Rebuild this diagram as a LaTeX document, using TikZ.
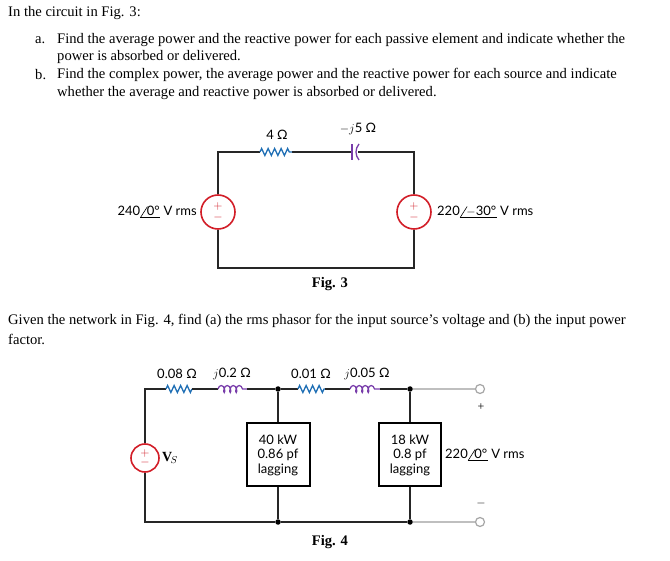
\documentclass[tikz,border=0pt]{standalone}
\usepackage{fontspec}
\setmainfont{Liberation Serif}
\newfontfamily\lab{Lato}
\usetikzlibrary{decorations.pathmorphing}
\definecolor{resblue}{RGB}{30,110,180}
\definecolor{indpurple}{RGB}{120,60,170}
\definecolor{srcred}{RGB}{210,30,40}
\newcommand\phz[1]{\tikz[baseline=0pt,x=1pt,y=1pt,line width=0.6pt]{%
  \node[anchor=base west,inner sep=0pt] (n) at (6,0) {#1};
  \draw (0,-2) -- (7,9);
  \draw (0,-2) -- (n.east |- 0,-2);}}
\begin{document}
\begin{tikzpicture}[x=1pt,y=-1pt,
  txt/.style={anchor=west,inner sep=0pt,font=\fontsize{14.6}{16}\selectfont},
  lbl/.style={inner sep=1pt,font=\lab\fontsize{13}{14}\selectfont},
  wire/.style={line width=2.2pt,black!85},
  gwire/.style={line width=2.2pt,black!25},
  res/.style={resblue,line width=1.3pt,decorate,decoration={zigzag,amplitude=3.5pt,segment length=6.5pt}},
  ind/.style={indpurple,line width=1.3pt,decorate,decoration={coil,aspect=0.5,amplitude=3.5pt,segment length=6pt}},
  src/.style={circle,draw=srcred,line width=1.6pt,fill=white,minimum size=#1,inner sep=0pt},
  box/.style={draw,line width=2pt,fill=white,align=center,inner sep=2pt,font=\lab\fontsize{13}{14.5}\selectfont},
  dot/.style={circle,fill=black,inner sep=0pt,minimum size=5.5pt},
  term/.style={circle,draw=black!35,line width=1.2pt,fill=white,inner sep=0pt,minimum size=9pt},
  sign/.style={srcred,inner sep=0pt,font=\fontsize{12}{12}\selectfont}]
\useasboundingbox (0,0) rectangle (670,561);
% problem text
\node[txt] (t1) at (8,13) {In the circuit in Fig. 3:};
\node[txt] (t2a) at (35,40) {a.};
\node[txt] (t2) at (57,40) {Find the average power and the reactive power for each passive element and indicate whether the};
\node[txt] (t3) at (57,57) {power is absorbed or delivered.};
\node[txt] (t4a) at (35,75) {b.};
\node[txt] (t4) at (57,75) {Find the complex power, the average power and the reactive power for each source and indicate};
\node[txt] (t5) at (57,93) {whether the average and reactive power is absorbed or delivered.};
\node[txt] (t6) at (8,321) {Given the network in Fig. 4, find (a) the rms phasor for the input source's voltage and (b) the input power};
\node[txt] (t7) at (8,339) {factor.};
\node[font=\bfseries\fontsize{14.6}{16}\selectfont] (f3) at (330,284) {Fig. 3};
\node[font=\bfseries\fontsize{14.6}{16}\selectfont] (f4) at (330,542) {Fig. 4};

% ---- Fig. 3
\coordinate (tl) at (218,152); \coordinate (tr) at (414,152);
\coordinate (bl) at (218,268); \coordinate (br) at (414,268);
\coordinate (r1a) at (260,152); \coordinate (r1b) at (292,152);
\coordinate (c1a) at (352,152); \coordinate (c1b) at (358,152);
\node[src=34pt] (s1) at (218,212) {};
\node[src=34pt] (s2) at (414,212) {};
\draw[wire] (s1) -- (tl) -- (r1a);
\draw[wire] (r1b) -- (c1a);
\draw[wire] (c1b) -- (tr) -- (s2);
\draw[wire] (s2) -- (br) -- (bl) -- (s1);
\draw[res] (r1a) -- (r1b);
\draw[indpurple,line width=1.3pt] ([yshift=-8pt]c1a) -- ([yshift=8pt]c1a);
\draw[indpurple,line width=1.3pt] ([xshift=1pt,yshift=-8pt]c1b) to[bend left=40] ([xshift=1pt,yshift=8pt]c1b);
\foreach \s in {s1,s2}{
  \node[sign] at ([yshift=5.5pt]\s) {$+$};
  \node[sign] at ([yshift=-6pt]\s) {$-$};}
\node[lbl] (l4) at (277,135) {4 Ω};
\node[lbl] (l5) at (358,129) {$-j$5 Ω};
\node[lbl,anchor=east] (v1) at (198,212) {240\phz{0°} V rms};
\node[lbl,anchor=west] (v2) at (436,212) {220\phz{$-$30°} V rms};

% ---- Fig. 4
\coordinate (ql) at (145,389); \coordinate (qbl) at (145,522);
\coordinate (ra) at (166,389); \coordinate (rb) at (192,389);
\coordinate (ia) at (218,389); \coordinate (ib) at (247,389);
\coordinate (rc) at (298,389); \coordinate (rd) at (325,389);
\coordinate (ic) at (350,389); \coordinate (id) at (380,389);
\node[dot] (j1) at (278,389) {}; \node[dot] (j2) at (410,389) {};
\node[dot] (j3) at (278,522) {}; \node[dot] (j4) at (410,522) {};
\node[term] (p1) at (480,389) {}; \node[term] (p2) at (480,522) {};
\node[src=28pt] (vs) at (145,458) {};
\node[sign] at ([yshift=4.5pt]vs) {$+$};
\node[sign] at ([yshift=-5pt]vs) {$-$};
\node[box,minimum width=63pt,minimum height=63pt] (b1) at (278,455) {40 kW\\0.86 pf\\lagging};
\node[box,minimum width=62pt,minimum height=63pt] (b2) at (410,455) {18 kW\\0.8 pf\\lagging};
\draw[wire] (vs) -- (ql) -- (ra);
\draw[res] (ra) -- (rb);
\draw[wire] (rb) -- (ia);
\draw[ind] (ia) -- (ib);
\draw[wire] (ib) -- (j1) -- (rc);
\draw[res] (rc) -- (rd);
\draw[wire] (rd) -- (ic);
\draw[ind] (ic) -- (id);
\draw[wire] (id) -- (j2);
\draw[gwire] (j2) -- (p1);
\draw[gwire] (j4) -- (p2);
\draw[wire] (vs) -- (qbl) -- (j3) -- (j4);
\draw[wire] (j1) -- (b1) -- (j3);
\draw[wire] (j2) -- (b2) -- (j4);
\node[lbl] (a1) at (177,374) {0.08 Ω};
\node[lbl] (a2) at (232,374) {$j$0.2 Ω};
\node[lbl] (a3) at (311,374) {0.01 Ω};
\node[lbl] (a4) at (367,374) {$j$0.05 Ω};
\node[anchor=west,inner sep=0pt,font=\fontsize{14}{14}\selectfont] (vl) at (162,458) {$\mathbf{V}_{\!S}$};
\node[font=\fontsize{12}{12}\selectfont] (pl) at (481,407) {+};
\node[font=\fontsize{12}{12}\selectfont] (ml) at (481,504) {$-$};
\node[lbl,anchor=west] (v3) at (444,455) {220\phz{0°} V rms};
\end{tikzpicture}
\end{document}
